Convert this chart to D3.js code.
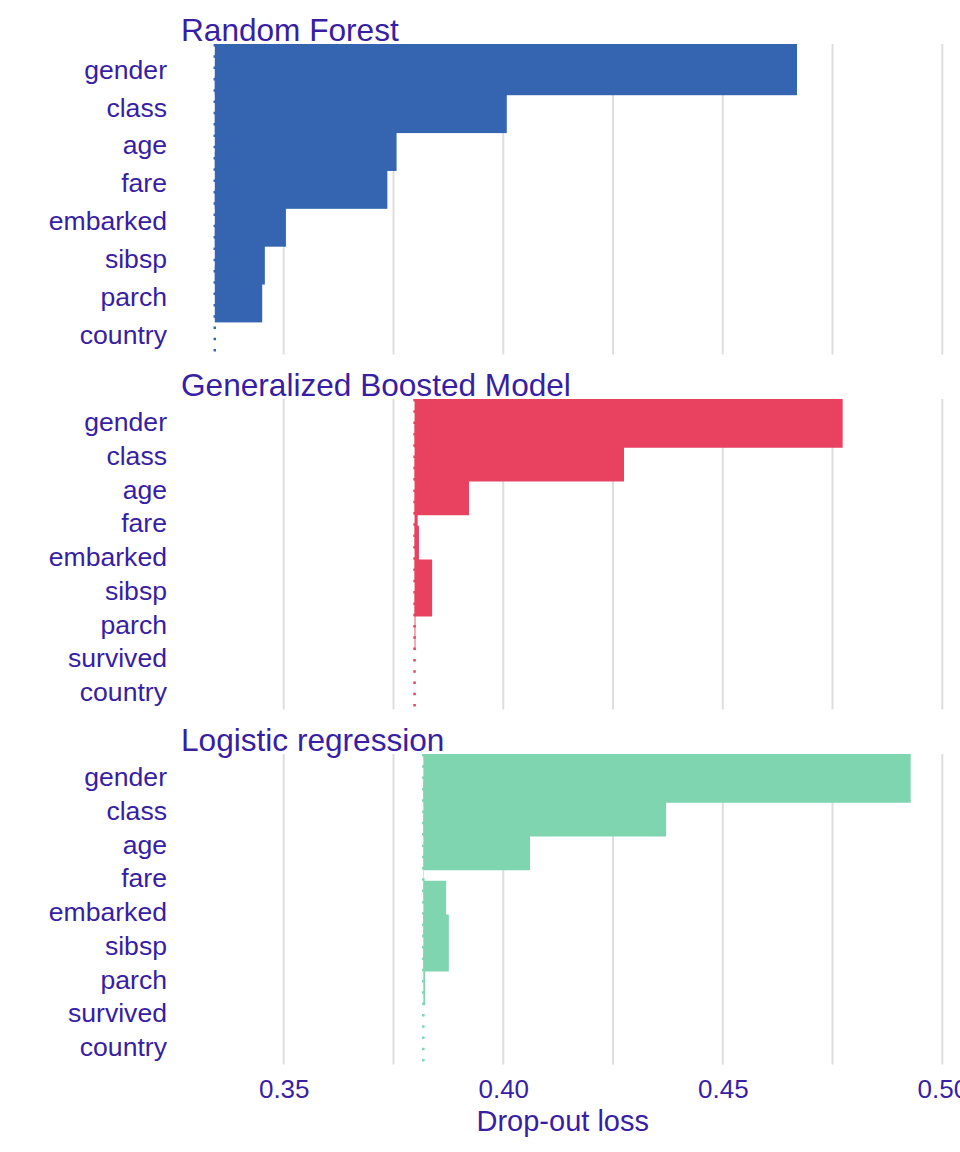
<!DOCTYPE html>
<html>
<head>
<meta charset="utf-8">
<script src="https://cdn.jsdelivr.net/npm/d3@7"></script>
<style>
  body { margin: 0; background: #fff; }
  svg text { font-family: "Liberation Sans", Arial, sans-serif; fill: #371ea3; }
</style>
</head>
<body>
<svg id="chart" width="960" height="1152"></svg>
<script>
// drop-out loss per variable
const modelNames = ['Random Forest', 'Generalized Boosted Model', 'Logistic regression'];
const modelColors = ['#3565b1', '#e94260', '#7ed5b0'];

const rfVars = ['gender', 'class', 'age', 'fare', 'embarked', 'sibsp', 'parch', 'country'];
const rfLoss = [0.4669, 0.4008, 0.3757, 0.3736, 0.3505, 0.3457, 0.3451, 0.3343];
const rfBase = 0.3343;

const gbmVars = ['gender', 'class', 'age', 'fare', 'embarked', 'sibsp', 'parch', 'survived', 'country'];
const gbmLoss = [0.4773, 0.4275, 0.3922, 0.3805, 0.3808, 0.3838, 0.3800, 0.3798, 0.3798];
const gbmBase = 0.3798;

const lrVars = ['gender', 'class', 'age', 'fare', 'embarked', 'sibsp', 'parch', 'survived', 'country'];
const lrLoss = [0.4928, 0.4371, 0.4061, 0.3819, 0.3870, 0.3876, 0.3822, 0.3818, 0.3818];
const lrBase = 0.3818;

const xTicks = [0.35, 0.40, 0.45, 0.50];
const xGrid = [0.35, 0.375, 0.40, 0.425, 0.45, 0.475, 0.50];

const models = [
  { name: modelNames[0], vars: rfVars, loss: rfLoss, base: rfBase, color: modelColors[0] },
  { name: modelNames[1], vars: gbmVars, loss: gbmLoss, base: gbmBase, color: modelColors[1] },
  { name: modelNames[2], vars: lrVars, loss: lrLoss, base: lrBase, color: modelColors[2] }
];

const svg = d3.select('#chart');
const left = 180, right = 945.5;
const panelTops = [44, 399, 754];
const panelH = 310.5;
const barH = 57;

// ggplot-like 5% expansion of the data range
const allVals = models.flatMap(m => m.loss.concat([m.base]));
const lo = d3.min(allVals), hi = d3.max(allVals);
const pad = (hi - lo) * 0.05;
const x = d3.scaleLinear().domain([lo - pad, hi + pad]).range([left, right]);

const defs = svg.append('defs');

models.forEach((m, i) => {
  const top = panelTops[i];
  const y = d3.scalePoint().domain(m.vars).range([top, top + panelH]).padding(0.6);
  const g = svg.append('g');

  defs.append('clipPath').attr('id', 'clip' + i)
    .append('rect').attr('x', left).attr('y', top).attr('width', right - left).attr('height', panelH);

  // vertical grid
  g.selectAll('line.grid')
    .data(xGrid.filter(v => x(v) <= right + 1))
    .join('line')
    .attr('class', 'grid')
    .attr('x1', d => x(d)).attr('x2', d => x(d))
    .attr('y1', top).attr('y2', top + panelH)
    .attr('stroke', '#dedede')
    .attr('stroke-width', 2);

  // bars: thick ranges from baseline, drawn bottom-up so upper ones sit on top
  const rows = m.vars.map((v, j) => ({ v, loss: m.loss[j] })).reverse();
  g.append('g').attr('clip-path', `url(#clip${i})`)
    .selectAll('rect')
    .data(rows)
    .join('rect')
    .attr('x', d => x(Math.min(d.loss, m.base)))
    .attr('width', d => Math.abs(x(d.loss) - x(m.base)))
    .attr('y', d => y(d.v) - barH / 2)
    .attr('height', barH)
    .attr('fill', m.color);

  // baseline (full model loss)
  g.append('line')
    .attr('x1', x(m.base)).attr('x2', x(m.base))
    .attr('y1', top).attr('y2', top + panelH)
    .attr('stroke', m.color)
    .attr('stroke-width', 2.5)
    .attr('stroke-dasharray', '2.5 8.8');

  // variable labels
  const yAxis = g.append('g')
    .attr('transform', `translate(${left - 13},0)`)
    .call(d3.axisLeft(y).tickSize(0).tickPadding(0));
  yAxis.select('.domain').remove();
  yAxis.selectAll('text')
    .attr('dy', '0.43em')
    .style('font-size', '26.6px')
    .style('font-family', '"Liberation Sans", Arial, sans-serif')
    .attr('fill', '#371ea3');

  // facet title
  svg.append('text')
    .attr('x', left + 1)
    .attr('y', top - 3.5)
    .style('font-size', '31.6px')
    .text(m.name);
});

// bottom axis
const bottom = panelTops[2] + panelH;
const xAxis = svg.append('g')
  .attr('transform', `translate(0,${bottom})`)
  .call(d3.axisBottom(x).tickValues(xTicks).tickFormat(d3.format('.2f')).tickSize(0).tickPadding(0));
xAxis.select('.domain').remove();
xAxis.selectAll('text')
  .attr('y', 33)
  .attr('dy', 0)
  .style('font-size', '26px')
  .style('font-family', '"Liberation Sans", Arial, sans-serif')
  .attr('fill', '#371ea3');

svg.append('text')
  .attr('x', (left + right) / 2)
  .attr('y', 1131)
  .attr('text-anchor', 'middle')
  .style('font-size', '29px')
  .text('Drop-out loss');
</script>
</body>
</html>
